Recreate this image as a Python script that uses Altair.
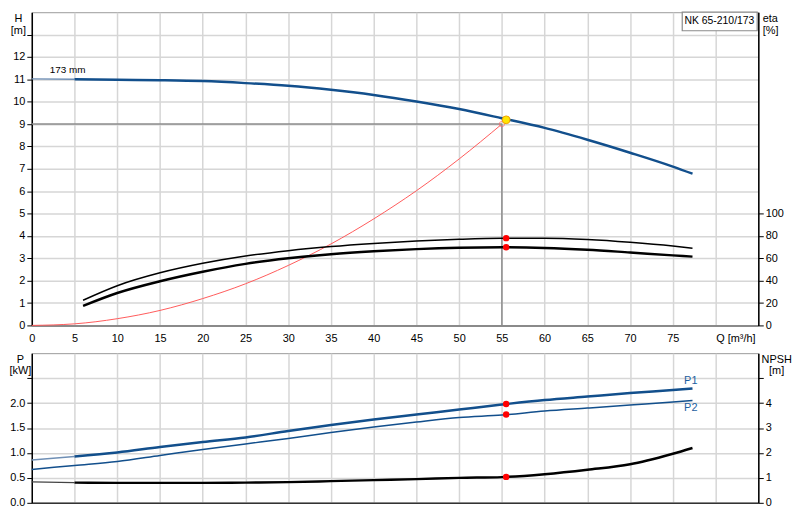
import altair as alt
import pandas as pd

BLUE = "#124f8c"
LABEL_BLUE = "#1d5f9f"
GRID = "#d6d6d6"
FONT = "Liberation Sans"

# ---------------- data ----------------
# pump curve H(Q)
q_h = [0, 5, 10, 15, 20, 25, 30, 35, 40, 45, 50, 55, 60, 65, 70, 75, 77.3]
head = [11.02, 11.0, 10.98, 10.96, 10.92, 10.83, 10.71, 10.53, 10.30, 10.01, 9.67, 9.26, 8.83, 8.30, 7.72, 7.10, 6.78]

# system curve
q_sys = [0, 5, 10, 15, 20, 25, 30, 35, 40, 45, 50, 55]
h_sys = [0, 0.07, 0.30, 0.67, 1.20, 1.86, 2.68, 3.64, 4.76, 6.02, 7.44, 9.0]

# efficiencies
q_eta = [6, 10, 15, 20, 25, 30, 35, 40, 45, 50, 55, 60, 65, 70, 75, 77.3]
eta_pump = [22.5, 35.5, 47, 55.5, 62, 66.8, 70.5, 73.3, 75.5, 77, 77.9, 78, 76.8, 74.3, 70.9, 68.9]
eta_total = [17.5, 29, 39.5, 48, 55, 60, 63.7, 66.3, 68.2, 69.4, 69.8, 69.3, 67.7, 65.2, 62.6, 61.5]

# power
q_p = [0, 5, 10, 15, 20, 25, 30, 35, 40, 45, 50, 55, 60, 65, 70, 75, 77.3]
p1 = [0.86, 0.93, 1.01, 1.12, 1.22, 1.31, 1.44, 1.56, 1.67, 1.77, 1.87, 1.97, 2.06, 2.13, 2.20, 2.26, 2.29]
p2 = [0.67, 0.75, 0.83, 0.95, 1.07, 1.18, 1.29, 1.41, 1.52, 1.62, 1.71, 1.76, 1.84, 1.90, 1.96, 2.02, 2.05]

# NPSH
q_n = [0, 5, 10, 15, 20, 25, 30, 35, 40, 45, 50, 55, 60, 65, 70, 72, 75, 77.3]
npsh = [0.84, 0.81, 0.80, 0.80, 0.80, 0.81, 0.83, 0.87, 0.91, 0.95, 1.00, 1.03, 1.15, 1.33, 1.55, 1.70, 1.97, 2.20]

# duty / operating points
duty_q = 55
duty_h = 9.0
op_q = 55.5
op_h = 9.19
op_eta = [78, 69.8]
op_p = [1.98, 1.77]
op_npsh = 1.04

# labels
x_ticks = list(range(0, 90, 5))
h_ticks = list(range(0, 14))
eta_ticks = [0, 20, 40, 60, 80, 100]
p_ticks = [0, 0.5, 1.0, 1.5, 2.0, 2.5]
npsh_ticks = [0, 1, 2, 3, 4, 5]
model_label = "NK 65-210/173"
impeller_label = "173 mm"
x_title = "Q [m³/h]"

H_DOM = [0, 14]
ETA_DOM = [0, 280]
P_DOM = [0, 3]
N_DOM = [0, 6]

# ---------------- axes ----------------
top_x_axis = alt.Axis(values=x_ticks, grid=True, ticks=False, tickSize=0, labelPadding=7,
                      labelFlush=False, labelExpr="datum.value <= 75 ? datum.label : ''",
                      domainColor="#8a8a8a", domainWidth=2,
                      title=x_title, titleX=690, titleY=7, titleAlign="left",
                      titleBaseline="top", titleAngle=0)
h_axis = alt.Axis(values=h_ticks, grid=True, tickSize=5, labelPadding=2, labelFlush=False,
                  labelExpr="datum.value <= 12 ? datum.label : ''",
                  title=["H", "[m]"], titleAngle=0, titleAlign="center", titleBaseline="top",
                  titleX=-14, titleY=0, titleLineHeight=12)
eta_axis = alt.Axis(orient="right", values=eta_ticks, grid=False, tickSize=5, labelPadding=2,
                    labelFlush=False, title=["eta", "[%]"], titleAngle=0, titleAlign="left",
                    titleBaseline="top", titleX=4, titleY=0, titleLineHeight=12)
bot_x_axis = alt.Axis(values=x_ticks, grid=True, labels=False, ticks=False, tickSize=0,
                      domainColor="#333333", domainWidth=1.5, title="")
p_axis = alt.Axis(values=p_ticks, grid=True, tickSize=5, labelPadding=2, labelFlush=False,
                  labelExpr="datum.value <= 2 ? format(datum.value, '.1f') : ''",
                  title=["P", "[kW]"], titleAngle=0, titleAlign="center", titleBaseline="top",
                  titleX=-12, titleY=0, titleLineHeight=12)
npsh_axis = alt.Axis(orient="right", values=npsh_ticks, grid=False, tickSize=5, labelPadding=2,
                     labelFlush=False, labelExpr="datum.value <= 4 ? datum.label : ''",
                     title=["NPSH", "[m]"], titleAngle=0, titleAlign="center",
                     titleBaseline="top", titleX=18, titleY=0, titleLineHeight=12)


# ---------------- helpers ----------------
def frame(q, v):
    return pd.DataFrame({"q": q, "v": v})


def split(q, v, cut=5):
    df = frame(q, v)
    return df[df.q <= cut], df[df.q >= cut]


class Panel:
    def __init__(self, x_axis, y_dom, y_axis):
        self.x_axis = x_axis
        self.y_dom = y_dom
        self.y_axis = y_axis

    def x(self):
        return alt.X("q:Q", scale=alt.Scale(domain=[0, 85], nice=False, zero=False), axis=self.x_axis)

    def y(self):
        return alt.Y("v:Q", scale=alt.Scale(domain=self.y_dom, nice=False, zero=False), axis=self.y_axis)

    def line(self, df, color, width):
        return alt.Chart(df).mark_line(color=color, strokeWidth=width, interpolate="monotone").encode(
            x=self.x(), y=self.y())

    def dots(self, df, fill, size=42, stroke=None):
        kw = dict(shape="circle", filled=True, fill=fill, size=size, opacity=1)
        if stroke:
            kw.update(stroke=stroke, strokeWidth=1)
        else:
            kw.update(strokeWidth=0)
        return alt.Chart(df).mark_point(**kw).encode(x=self.x(), y=self.y())

    def text(self, df, **kw):
        return alt.Chart(df).mark_text(font=FONT, baseline="middle", **kw).encode(
            x=self.x(), y=self.y(), text="t:N")


H = Panel(top_x_axis, H_DOM, h_axis)
E = Panel(top_x_axis, ETA_DOM, eta_axis)
P = Panel(bot_x_axis, P_DOM, p_axis)
N = Panel(bot_x_axis, N_DOM, npsh_axis)

# ---------------- top panel ----------------
sys_layer = H.line(frame(q_sys, h_sys), "#ff5a5a", 1)

h_rule = alt.Chart(pd.DataFrame({"q": [0], "q2": [duty_q], "v": [duty_h]})).mark_rule(
    color="#8c8c8c", strokeWidth=1.5
).encode(x=H.x(), x2="q2:Q", y=H.y())
v_rule = alt.Chart(pd.DataFrame({"q": [duty_q], "v": [0], "v2": [duty_h]})).mark_rule(
    color="#8c8c8c", strokeWidth=1.5
).encode(x=H.x(), y=H.y(), y2="v2:Q")

h_thin, h_thick = split(q_h, head)
h_thin_l = H.line(h_thin, "#6f8fb5", 1.5)
h_thick_l = H.line(h_thick, BLUE, 2.5)

hollow = alt.Chart(frame([duty_q], [duty_h])).mark_point(
    shape="circle", filled=False, color="#ff6a6a", size=28, strokeWidth=1
).encode(x=H.x(), y=H.y())
yellow = H.dots(frame([op_q], [op_h]), "#ffe600", size=62, stroke="#f0a000")

box = alt.Chart(pd.DataFrame({"q": [76.1], "q2": [84.87], "v": [13.17], "v2": [14.0]})).mark_rect(
    fill="white", stroke="#8a8a8a", strokeWidth=1.2
).encode(x=H.x(), x2="q2:Q", y=H.y(), y2="v2:Q")
box_text = H.text(pd.DataFrame({"q": [80.45], "v": [13.6], "t": [model_label]}),
                  fontSize=10.5, color="black", align="center")
imp_text = H.text(pd.DataFrame({"q": [2.1], "v": [11.42], "t": [impeller_label]}),
                  fontSize=10, color="black", align="left")

top_left = alt.layer(sys_layer, h_rule, v_rule, hollow, h_thin_l, h_thick_l, yellow,
                     box, box_text, imp_text)

eta_pump_l = E.line(frame(q_eta, eta_pump), "black", 1.5)
eta_total_l = E.line(frame(q_eta, eta_total), "black", 2.5)
eta_dots = E.dots(frame([op_q, op_q], op_eta), "#ff0000")

top_right = alt.layer(eta_pump_l, eta_total_l, eta_dots)

top = alt.layer(top_left, top_right).resolve_scale(y="independent").properties(
    width=733, height=316
)

# ---------------- bottom panel ----------------
p1_thin, p1_thick = split(q_p, p1)
p2_l = P.line(frame(q_p, p2), BLUE, 1.5)
p1_thin_l = P.line(p1_thin, "#6f8fb5", 1.5)
p1_thick_l = P.line(p1_thick, BLUE, 2.5)
p_dots = P.dots(frame([op_q, op_q], op_p), "#ff0000")
p_labels = P.text(pd.DataFrame({"q": [77.1, 77.1], "v": [2.45, 1.91], "t": ["P1", "P2"]}),
                  fontSize=11, color=LABEL_BLUE, align="center")

bot_left = alt.layer(p2_l, p1_thin_l, p1_thick_l, p_dots, p_labels)

n_thin, n_thick = split(q_n, npsh)
n_thin_l = N.line(n_thin, "#444444", 1.2)
n_thick_l = N.line(n_thick, "black", 2.5)
n_dot = N.dots(frame([op_q], [op_npsh]), "#ff0000")

bot_right = alt.layer(n_thin_l, n_thick_l, n_dot)

bottom = alt.layer(bot_left, bot_right).resolve_scale(y="independent").properties(
    width=733, height=151
)

chart = alt.vconcat(top, bottom, spacing=28, bounds="flush").properties(
    padding={"left": 0, "top": 0, "right": 0, "bottom": 0}, background="white"
).configure(
    padding={"left": 0, "top": 0, "right": 0, "bottom": 0}
).configure_view(
    stroke="#9a9a9a", strokeWidth=1
).configure_axis(
    labelFont=FONT, labelFontSize=11, labelColor="black",
    titleFont=FONT, titleFontSize=11, titleFontWeight="normal", titleColor="black",
    gridColor=GRID, gridWidth=1.5, domainColor="black", domainWidth=1.5,
    tickColor="black", tickWidth=1
)

chart.save("out.html", embed_options={"renderer": "svg", "actions": False})
